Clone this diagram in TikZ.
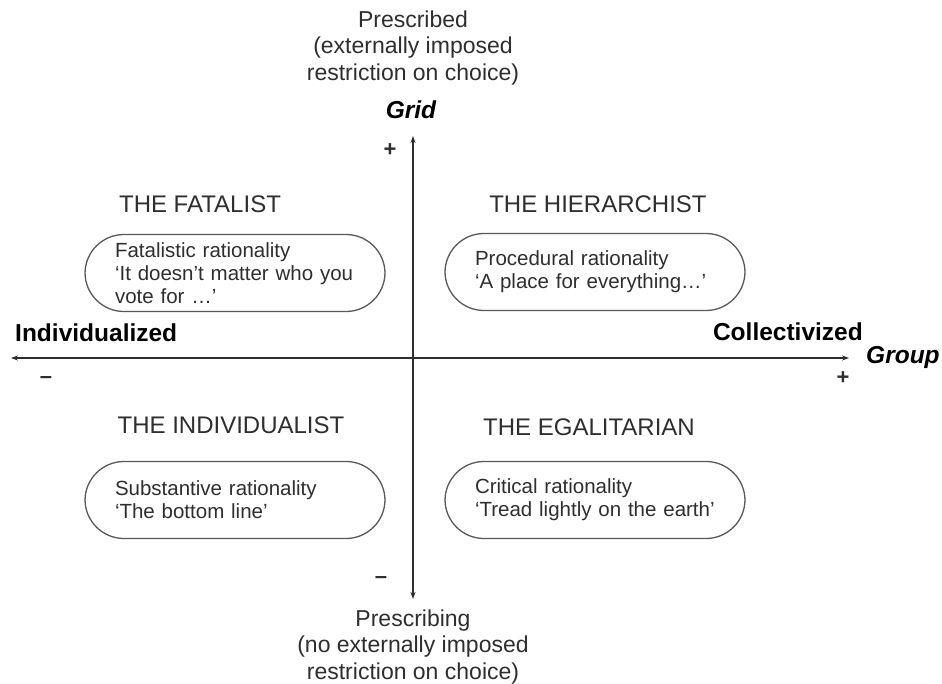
\documentclass[tikz,border=0pt]{standalone}
\usepackage{fontspec}
\setmainfont{Liberation Sans}
\usepackage{tikz}
\usetikzlibrary{arrows.meta}

\definecolor{inkgray}{gray}{0.18}
\definecolor{boxgray}{gray}{0.35}

\tikzset{
  axislabel/.style={align=center, inner sep=0pt, text=inkgray,
    font=\fontsize{23}{26.5}\selectfont},
  polelabel/.style={inner sep=0pt, text=black, font=\bfseries\fontsize{24.5}{28}\selectfont},
  axisname/.style={inner sep=0pt, text=black, font=\bfseries\itshape\fontsize{24.5}{28}\selectfont},
  sign/.style={inner sep=0pt, text=inkgray, font=\bfseries\fontsize{22}{24}\selectfont},
  typehead/.style={inner sep=0pt, text=inkgray, font=\fontsize{24}{28}\selectfont},
  ratbox/.style={draw=boxgray, line width=1.3pt, rounded corners=39pt,
    minimum width=300pt, minimum height=77pt, text width=240pt, align=left,
    inner sep=0pt, text=inkgray, font=\fontsize{20.5}{23}\selectfont},
  axisline/.style={line width=1.2pt, draw=inkgray, {Stealth[length=7pt,width=5pt]}-{Stealth[length=7pt,width=5pt]}}
}

\begin{document}
\begin{tikzpicture}[x=1pt, y=-1pt]
    \useasboundingbox (0,0) rectangle (942,683);

    % axes
    \coordinate (gridtop) at (413,136);
    \coordinate (gridbot) at (413,599);
    \coordinate (groupleft) at (11,358);
    \coordinate (groupright) at (849,358);
    \draw [axisline] (gridbot) -- (gridtop);
    \draw [axisline] (groupleft) -- (groupright);

    \node [axislabel] (prescribed) at (413,48) {Prescribed\\(externally imposed\\restriction on choice)};
    \node [axisname] (grid) at (411,110) {Grid};
    \node [sign] (gridplus) at (390,150) {+};
    \node [sign] (gridminus) at (381,580) {\textendash};
    \node [axislabel] (prescribing) at (413,647) {Prescribing\\(no externally imposed\\restriction on choice)};

    \node [polelabel, anchor=west] (indiv) at (15,333) {Individualized};
    \node [polelabel, anchor=east] (collect) at (863,332) {Collectivized};
    \node [axisname, anchor=west] (group) at (866,357) {Group};
    \node [sign] (groupminus) at (46,380) {\textendash};
    \node [sign] (groupplus) at (843,378) {+};

    % the four ways of life
    \node [typehead] (fatalist) at (200,204) {THE FATALIST};
    \node [typehead] (hierarchist) at (598,204) {THE HIERARCHIST};
    \node [typehead] (individualist) at (231,425) {THE INDIVIDUALIST};
    \node [typehead] (egalitarian) at (589,427) {THE EGALITARIAN};

    \node [ratbox] (fatbox) at (235,273) {Fatalistic rationality\\‘It doesn’t matter who you\\vote for …’};
    \node [ratbox] (hierbox) at (595,272) {Procedural rationality\\‘A place for everything…’};
    \node [ratbox] (indbox) at (235,500) {Substantive rationality\\‘The bottom line’};
    \node [ratbox] (egalbox) at (595,500) {Critical rationality\\‘Tread lightly on the earth’};
\end{tikzpicture}
\end{document}
